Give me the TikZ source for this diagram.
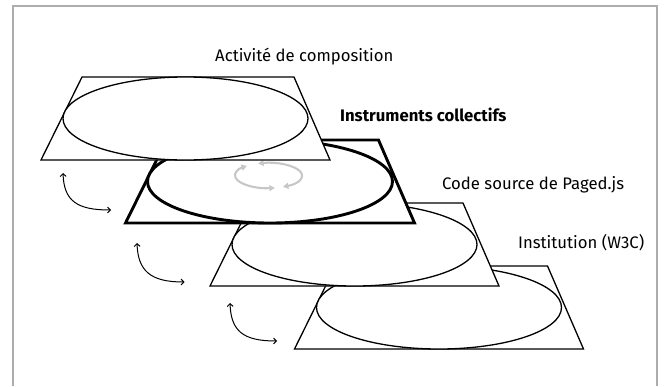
\documentclass[tikz,border=0pt]{standalone}
\usepackage{fontspec}
\setmainfont{Fira Sans}
\usetikzlibrary{arrows.meta, calc}

\begin{document}
\begin{tikzpicture}[x=1pt, y=-1pt,
  layer/.style={draw=black, fill=white, line width=1.3pt},
  keylayer/.style={draw=black, fill=white, line width=2.9pt},
  cyclearrow/.style={draw=black!22, line width=2.1pt,
    {Triangle[length=5.5pt,width=6pt]}-{Triangle[length=5.5pt,width=6pt]}},
  link/.style={draw=black, line width=1pt,
    {Straight Barb[length=2.8pt,width=6pt]}-{Straight Barb[length=2.8pt,width=6pt]}},
  layertext/.style={font=\fontsize{16.7}{19}\selectfont, anchor=base west, inner sep=0pt}
]
  \useasboundingbox (0,0) rectangle (670,386);
  % outer frame, open at the bottom
  \draw[black!32, line width=2pt] (13,386) -- (13,6) -- (657,6) -- (657,386);

  % bottom-left corners of the four layers
  \coordinate (p1) at (41,160);
  \coordinate (p2) at (125.5,223);
  \coordinate (p3) at (210,286);
  \coordinate (p4) at (294.5,349);

  % Institution (W3C)
  \draw[layer] (p4) -- ++(41,-83) -- ++(212,0) -- ++(36,83) -- cycle;
  \draw[layer] ($(p4)+(144.5,-41.5)$) ellipse[x radius=122.5, y radius=41.5];

  % Code source de Paged.js
  \draw[layer] (p3) -- ++(41,-83) -- ++(212,0) -- ++(36,83) -- cycle;
  \draw[layer] ($(p3)+(144.5,-41.5)$) ellipse[x radius=122.5, y radius=41.5];

  % Instruments collectifs
  \draw[keylayer] (p2) -- ++(41,-83) -- ++(212,0) -- ++(36,83) -- cycle;
  \draw[keylayer] ($(p2)+(144.5,-41.5)$) ellipse[x radius=122.5, y radius=41.5];
  \coordinate (loop) at ($(p2)+(143,-47.5)$);
  \draw[cyclearrow] (loop) ++(79:33.5 and 12.5)
    arc[start angle=79, end angle=230, x radius=33.5, y radius=12.5];
  \draw[cyclearrow] (loop) ++(252:33.5 and 12.5)
    arc[start angle=252, end angle=424.5, x radius=33.5, y radius=12.5];

  % Activite de composition
  \draw[layer] (p1) -- ++(41,-83) -- ++(212,0) -- ++(36,83) -- cycle;
  \draw[layer] ($(p1)+(144.5,-41.5)$) ellipse[x radius=122.5, y radius=41.5];

  % exchanges between neighbouring layers
  \foreach \sx/\sy/\ex/\ey [count=\i] in {63/173/111/210, 137/243/184.5/282, 230/303/277/341}{
    \coordinate (s\i) at (\sx,\sy);
    \coordinate (e\i) at (\ex,\ey);
    \draw[link] (s\i) .. controls ($(s\i)+(1,28)$) and ($(e\i)+(-34,0)$) .. (e\i);
  }

  % labels
  \node[layertext] (activite) at (215,61) {Activité de composition};
  \node[layertext, font=\fontsize{16.7}{19}\selectfont\bfseries] (instruments) at (340,121) {Instruments collectifs};
  \node[layertext] (code) at (442,189) {Code source de Paged.js};
  \node[layertext] (institution) at (518,248) {Institution (W3C)};
\end{tikzpicture}
\end{document}
